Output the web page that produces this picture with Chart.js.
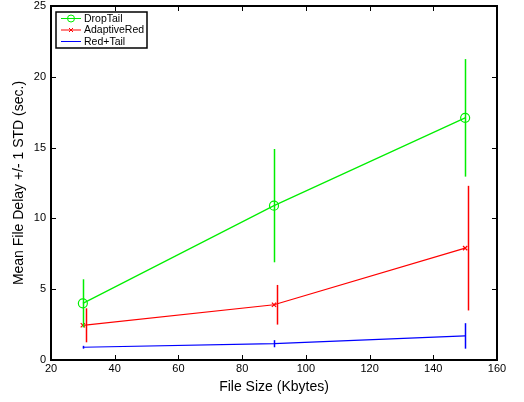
<!DOCTYPE html>
<html>
<head>
<meta charset="utf-8">
<script src="https://cdn.jsdelivr.net/npm/chart.js@4"></script>
<style>
  html, body { margin: 0; padding: 0; background: #fff; }
  #wrap { width: 524px; height: 402px; }
</style>
</head>
<body>
<div id="wrap"><canvas id="delayChart" width="524" height="402"></canvas></div>
<script>
// file sizes (Kbytes)
const fileSizes = [30, 90, 150];

// mean delay (sec.)
const dropTailMean = [4.0, 10.9, 17.1];
const adaptiveRedMean = [2.45, 3.9, 7.9];
const redTailMean = [0.9, 1.15, 1.7];

// +/- 1 std
const dropTailStd = [1.7, 4.0, 4.15];
const adaptiveRedStd = [1.2, 1.4, 4.4];
const redTailStd = [0.1, 0.25, 0.9];

const xTicks = [20, 40, 60, 80, 100, 120, 140, 160];
const yTicks = [0, 5, 10, 15, 20, 25];

const FONT = '"Liberation Sans", Arial, Helvetica, sans-serif';

function toPoints(xs, ys) {
    return xs.map((x, i) => ({ x: x, y: ys[i] }));
}

// vertical error bars, drawn through the chart's own scales
const errorBars = {
    id: 'errorBars',
    afterDatasetsDraw(chart) {
        const ctx = chart.ctx;
        const xs = chart.scales.x, ys = chart.scales.y;
        chart.data.datasets.forEach(ds => {
            if (!ds.errors) return;
            ctx.save();
            ctx.strokeStyle = ds.borderColor;
            ctx.lineWidth = 1.5;
            ds.data.forEach((p, i) => {
                const px = Math.round(xs.getPixelForValue(p.x + (ds.errOffset || 0))) + 0.5;
                const top = ys.getPixelForValue(p.y + ds.errors[i]);
                const bot = ys.getPixelForValue(p.y - ds.errors[i]);
                ctx.beginPath();
                ctx.moveTo(px, top);
                ctx.lineTo(px, bot);
                ctx.stroke();
            });
            ctx.restore();
        });
    }
};

// matlab style box with inward ticks, plus the legend
const frameAndLegend = {
    id: 'frameAndLegend',
    afterDraw(chart) {
        const ctx = chart.ctx;
        const a = chart.chartArea;
        const xs = chart.scales.x, ys = chart.scales.y;
        ctx.save();
        ctx.strokeStyle = '#000';
        ctx.lineWidth = 2;
        ctx.strokeRect(a.left, a.top, a.right - a.left, a.bottom - a.top);
        ctx.lineWidth = 1;
        ctx.beginPath();
        xTicks.forEach(v => {
            const px = Math.round(xs.getPixelForValue(v)) + 0.5;
            ctx.moveTo(px, a.bottom); ctx.lineTo(px, a.bottom - 5);
            ctx.moveTo(px, a.top); ctx.lineTo(px, a.top + 5);
        });
        yTicks.forEach(v => {
            const py = Math.round(ys.getPixelForValue(v)) + 0.5;
            ctx.moveTo(a.left, py); ctx.lineTo(a.left + 5, py);
            ctx.moveTo(a.right, py); ctx.lineTo(a.right - 5, py);
        });
        ctx.stroke();

        // legend box
        const lx = a.left + 5, ly = a.top + 6, lw = 91, lh = 36;
        ctx.fillStyle = '#fff';
        ctx.fillRect(lx, ly, lw, lh);
        ctx.lineWidth = 1.5;
        ctx.strokeRect(lx, ly, lw, lh);
        ctx.font = '10.5px ' + FONT;
        ctx.textBaseline = 'middle';
        chart.data.datasets.forEach((ds, i) => {
            const y = ly + 6.5 + i * 11.5;
            ctx.strokeStyle = ds.borderColor;
            ctx.lineWidth = 1;
            ctx.beginPath();
            ctx.moveTo(lx + 5, y); ctx.lineTo(lx + 25, y);
            ctx.stroke();
            if (ds.pointStyle === 'circle') {
                ctx.beginPath();
                ctx.arc(lx + 15, y, 3.5, 0, Math.PI * 2);
                ctx.stroke();
            } else if (ds.pointStyle === 'crossRot') {
                ctx.beginPath();
                ctx.moveTo(lx + 13, y - 2); ctx.lineTo(lx + 17, y + 2);
                ctx.moveTo(lx + 13, y + 2); ctx.lineTo(lx + 17, y - 2);
                ctx.stroke();
            }
            ctx.fillStyle = '#000';
            ctx.fillText(ds.label, lx + 28, y + 0.5);
        });
        ctx.restore();
    }
};

const ctx = document.getElementById('delayChart').getContext('2d');

const delayChart = new Chart(ctx, {
    type: 'line',
    data: {
        datasets: [{
            label: 'DropTail',
            data: toPoints(fileSizes, dropTailMean),
            errors: dropTailStd,
            errOffset: 0,
            borderColor: '#00ee00',
            backgroundColor: 'transparent',
            borderWidth: 1.2,
            pointStyle: 'circle',
            pointRadius: 4.5,
            pointBorderWidth: 1.2
        }, {
            label: 'AdaptiveRed',
            data: toPoints(fileSizes, adaptiveRedMean),
            errors: adaptiveRedStd,
            errOffset: 1,
            borderColor: '#ff0000',
            backgroundColor: 'transparent',
            borderWidth: 1.2,
            pointStyle: 'crossRot',
            pointRadius: 3,
            pointBorderWidth: 1.2
        }, {
            label: 'Red+Tail',
            data: toPoints(fileSizes, redTailMean),
            errors: redTailStd,
            errOffset: 0,
            borderColor: '#0000ff',
            backgroundColor: 'transparent',
            borderWidth: 1.2,
            pointStyle: false,
            pointRadius: 0
        }]
    },
    options: {
        responsive: false,
        animation: false,
        layout: { padding: { left: 0, right: 27, top: 6, bottom: 0 } },
        plugins: {
            legend: { display: false },
            tooltip: { enabled: false }
        },
        scales: {
            x: {
                type: 'linear',
                min: 20,
                max: 160,
                grid: { display: false, drawTicks: false },
                border: { display: false },
                afterBuildTicks: s => { s.ticks = xTicks.map(v => ({ value: v })); },
                afterFit: s => { s.height = 42; s.paddingLeft = 0; s.paddingRight = 0; },
                ticks: { color: '#000', font: { family: FONT, size: 11 }, padding: 2, maxRotation: 0 },
                title: {
                    display: true,
                    text: 'File Size (Kbytes)',
                    color: '#000',
                    font: { family: FONT, size: 14 },
                    padding: { top: 0, bottom: 6 }
                }
            },
            y: {
                type: 'linear',
                min: 0,
                max: 25,
                grid: { display: false, drawTicks: false },
                border: { display: false },
                afterBuildTicks: s => { s.ticks = yTicks.map(v => ({ value: v })); },
                afterFit: s => { s.width = 51; s.paddingTop = 0; s.paddingBottom = 0; },
                ticks: { color: '#000', font: { family: FONT, size: 11 }, padding: 5 },
                title: {
                    display: true,
                    text: 'Mean File Delay +/- 1 STD (sec.)',
                    color: '#000',
                    font: { family: FONT, size: 14 },
                    padding: { top: 11, bottom: 0 }
                }
            }
        }
    },
    plugins: [errorBars, frameAndLegend]
});
</script>
</body>
</html>
